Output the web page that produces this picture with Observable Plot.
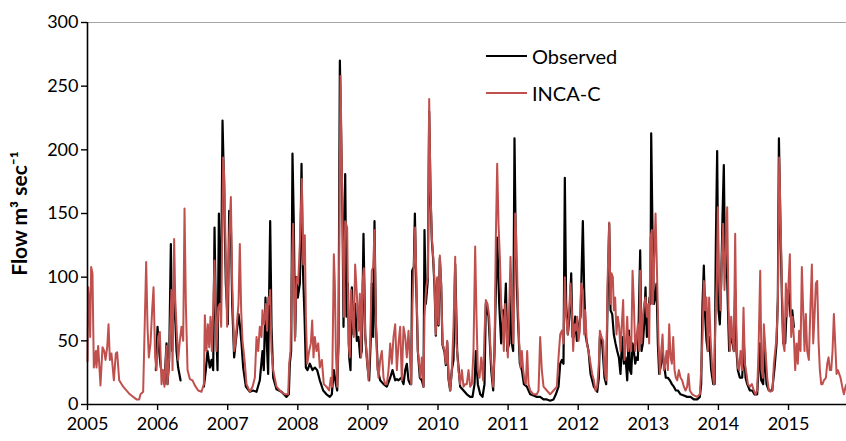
<!DOCTYPE html>
<html>
<head>
<meta charset="utf-8">
<script src="https://cdn.jsdelivr.net/npm/d3@7"></script>
<script src="https://cdn.jsdelivr.net/npm/@observablehq/plot@0.6"></script>
<style>
  html, body { margin: 0; padding: 0; background: #fff; }
  #wrap { position: relative; width: 846px; height: 441px; font-family: Lato, "Open Sans", sans-serif; }
  .leg { position: absolute; display: flex; align-items: center; font-size: 20px; color: #000; }
  .leg span.sw { display: inline-block; width: 41px; margin-right: 5px; }
</style>
</head>
<body>
<div id="wrap"></div>
<script>
// ---- data (decimal year, flow m3/s) ----
const yearTicks = [2005, 2006, 2007, 2008, 2009, 2010, 2011, 2012, 2013, 2014, 2015];
const flowTicks = [0, 50, 100, 150, 200, 250, 300];
const seriesNames = ["Observed", "INCA-C"];

const incaYear = [
2005.000,2005.010,2005.024,2005.038,2005.052,2005.071,2005.090,2005.119,2005.128,2005.152,2005.185,2005.214,2005.238,2005.257,2005.281,2005.300,2005.319,2005.342,2005.376,2005.404,2005.423,2005.452,2005.509,2005.604,2005.699,2005.737,2005.756,2005.794,2005.813,2005.837,2005.856,2005.875,2005.899,2005.922,2005.942,2005.965,2005.984,
2006.008,2006.032,2006.056,2006.079,2006.098,2006.127,2006.141,2006.165,2006.198,2006.213,2006.236,2006.251,2006.270,2006.293,2006.317,2006.341,2006.365,2006.384,2006.403,2006.427,2006.460,2006.498,2006.531,2006.579,2006.626,2006.660,2006.674,2006.698,2006.717,2006.736,2006.755,2006.774,2006.793,2006.812,2006.840,2006.864,2006.888,2006.907,2006.921,2006.935,2006.954,2006.973,2006.992,
2007.021,2007.045,2007.064,2007.092,2007.111,2007.130,2007.154,2007.173,2007.192,2007.211,2007.240,2007.268,2007.316,2007.354,2007.387,2007.411,2007.435,2007.458,2007.482,2007.496,2007.520,2007.544,2007.563,2007.577,2007.592,2007.606,2007.625,2007.649,2007.696,2007.744,2007.815,2007.863,2007.877,2007.896,2007.920,2007.934,2007.958,2007.981,
2008.005,2008.029,2008.058,2008.077,2008.100,2008.115,2008.134,2008.162,2008.186,2008.205,2008.224,2008.243,2008.267,2008.291,2008.314,2008.343,2008.371,2008.409,2008.447,2008.471,2008.490,2008.514,2008.528,2008.543,2008.562,2008.581,2008.609,2008.638,2008.657,2008.676,2008.704,2008.723,2008.742,2008.761,2008.780,2008.799,2008.818,2008.842,2008.866,2008.885,2008.904,2008.923,2008.942,2008.961,2008.985,
2009.009,2009.032,2009.056,2009.075,2009.094,2009.113,2009.132,2009.151,2009.175,2009.199,2009.223,2009.246,2009.270,2009.294,2009.318,2009.341,2009.365,2009.389,2009.413,2009.437,2009.460,2009.484,2009.508,2009.532,2009.555,2009.579,2009.603,2009.617,2009.636,2009.655,2009.674,2009.693,2009.712,2009.731,2009.750,2009.769,2009.793,2009.807,2009.831,2009.855,2009.874,2009.893,2009.912,2009.931,2009.950,2009.969,2009.988,
2010.007,2010.026,2010.045,2010.064,2010.093,2010.112,2010.131,2010.150,2010.174,2010.197,2010.221,2010.245,2010.264,2010.292,2010.316,2010.340,2010.364,2010.388,2010.411,2010.435,2010.459,2010.483,2010.506,2010.530,2010.549,2010.568,2010.592,2010.616,2010.644,2010.663,2010.682,2010.706,2010.730,2010.749,2010.768,2010.787,2010.806,2010.825,2010.844,2010.863,2010.882,2010.901,2010.920,2010.939,2010.958,2010.977,2010.996,
2011.015,2011.034,2011.053,2011.072,2011.091,2011.101,2011.120,2011.139,2011.158,2011.177,2011.196,2011.215,2011.234,2011.253,2011.272,2011.291,2011.315,2011.362,2011.410,2011.434,2011.457,2011.481,2011.505,2011.553,2011.600,2011.648,2011.695,2011.719,2011.743,2011.767,2011.790,2011.809,2011.828,2011.852,2011.871,2011.890,2011.909,2011.928,2011.947,2011.966,2011.985,
2012.004,2012.023,2012.042,2012.066,2012.085,2012.099,2012.123,2012.147,2012.176,2012.199,2012.223,2012.247,2012.271,2012.294,2012.309,2012.332,2012.356,2012.375,2012.399,2012.418,2012.442,2012.461,2012.475,2012.494,2012.508,2012.527,2012.546,2012.565,2012.584,2012.603,2012.622,2012.641,2012.660,2012.680,2012.699,2012.718,2012.737,2012.756,2012.775,2012.794,2012.813,2012.832,2012.851,2012.870,2012.884,2012.903,2012.922,2012.941,2012.960,2012.979,2012.998,
2013.012,2013.031,2013.050,2013.065,2013.088,2013.103,2013.122,2013.146,2013.165,2013.184,2013.203,2013.222,2013.241,2013.260,2013.279,2013.298,2013.317,2013.336,2013.355,2013.374,2013.393,2013.412,2013.436,2013.459,2013.483,2013.507,2013.531,2013.554,2013.573,2013.592,2013.626,2013.659,2013.697,2013.735,2013.754,2013.773,2013.792,2013.811,2013.830,2013.849,2013.868,2013.887,2013.911,2013.935,2013.959,2013.978,2013.992,
2014.011,2014.030,2014.049,2014.068,2014.087,2014.106,2014.125,2014.144,2014.163,2014.182,2014.201,2014.220,2014.239,2014.258,2014.277,2014.296,2014.315,2014.339,2014.358,2014.377,2014.401,2014.420,2014.449,2014.477,2014.505,2014.529,2014.553,2014.572,2014.596,2014.615,2014.634,2014.648,2014.672,2014.696,2014.719,2014.743,2014.772,2014.791,2014.810,2014.829,2014.848,2014.867,2014.886,2014.905,2014.924,2014.943,2014.962,2014.981,
2015.000,2015.019,2015.038,2015.057,2015.076,2015.095,2015.114,2015.133,2015.152,2015.171,2015.190,2015.209,2015.228,2015.247,2015.266,2015.290,2015.314,2015.333,2015.352,2015.371,2015.390,2015.409,2015.428,2015.447,2015.466,2015.485,2015.504,2015.533,2015.552,2015.571,2015.590,2015.609,2015.628,2015.647,2015.666,2015.685,2015.704,2015.723,2015.742,2015.766,2015.790,2015.813,2015.827
];
const incaFlow = [
34,92,82,53,108,103,29,42,29,46,15,45,42,35,45,63,35,40,19,40,41,19,14,8,4,4,8,10,55,112,61,37,48,74,92,37,27,
53,57,16,27,14,46,16,37,90,27,130,84,61,35,50,61,50,154,79,27,20,19,15,11,10,16,70,42,63,45,69,42,74,113,42,76,79,61,131,194,176,110,61,
131,163,95,42,48,63,79,126,74,50,35,16,10,14,21,53,42,61,53,74,63,79,58,84,79,90,42,27,14,11,8,8,32,42,116,142,50,100,
95,126,177,110,133,69,32,42,48,66,37,53,42,48,29,35,16,14,11,21,14,118,95,42,14,53,258,147,69,144,139,48,37,90,69,53,110,87,58,87,37,95,107,55,37,
19,48,105,108,137,69,32,21,35,42,21,16,16,27,48,32,53,63,27,48,61,19,61,53,37,58,32,16,79,108,139,95,42,32,21,37,14,69,92,100,240,168,131,116,95,55,100,
63,117,95,48,42,32,50,21,11,27,61,116,48,27,16,27,14,16,16,27,14,16,42,124,69,27,21,37,19,55,82,79,69,42,27,14,42,131,189,142,116,79,69,42,79,58,37,
74,116,79,48,95,150,126,79,48,29,42,27,19,16,42,16,11,8,8,11,53,27,14,11,8,11,14,37,55,58,48,100,69,55,74,95,74,42,63,58,69,
50,58,95,90,55,74,48,42,32,24,19,11,14,32,58,53,50,27,19,95,143,79,103,100,74,84,55,69,61,42,63,82,35,48,69,42,53,42,105,79,42,53,63,42,105,48,69,79,84,69,79,
48,131,137,79,121,150,108,48,24,42,55,27,32,42,27,63,37,32,53,27,21,19,27,21,19,14,11,14,24,11,8,7,6,8,27,53,97,74,84,42,84,53,29,16,69,100,155,
95,74,116,142,90,121,155,74,42,69,53,42,134,48,29,27,42,27,76,32,24,16,14,16,11,8,11,42,105,27,21,63,42,21,11,10,11,32,42,53,79,194,147,95,48,42,95,69,
95,118,53,69,53,27,48,32,58,42,108,74,42,71,42,35,79,110,48,69,95,97,50,27,16,16,19,21,32,37,27,27,42,71,48,24,27,24,21,14,8,14,16
];

const obsYear = [
2005.975,2005.999,
2006.022,2006.046,2006.079,2006.098,2006.127,2006.141,2006.165,2006.189,2006.208,2006.232,2006.251,2006.270,2006.293,2006.327,2006.500,2006.660,2006.688,2006.712,2006.745,2006.769,2006.793,2006.812,2006.831,2006.855,2006.874,2006.893,2006.912,2006.926,2006.945,2006.973,
2007.002,2007.021,2007.045,2007.064,2007.092,2007.126,2007.154,2007.173,2007.197,2007.221,2007.259,2007.316,2007.363,2007.411,2007.458,2007.496,2007.515,2007.539,2007.558,2007.577,2007.592,2007.606,2007.625,2007.649,2007.696,2007.767,2007.839,2007.872,2007.886,2007.905,2007.924,2007.943,2007.962,2007.981,
2008.000,2008.029,2008.053,2008.072,2008.096,2008.115,2008.138,2008.172,2008.210,2008.243,2008.276,2008.314,2008.362,2008.409,2008.457,2008.485,2008.514,2008.543,2008.562,2008.581,2008.600,2008.638,2008.652,2008.676,2008.695,2008.714,2008.733,2008.752,2008.771,2008.795,2008.818,2008.842,2008.866,2008.890,2008.913,2008.937,2008.961,2008.990,
2009.018,2009.042,2009.056,2009.075,2009.094,2009.113,2009.142,2009.175,2009.223,2009.270,2009.318,2009.351,2009.389,2009.413,2009.437,2009.475,2009.508,2009.532,2009.555,2009.579,2009.603,2009.617,2009.631,2009.655,2009.670,2009.689,2009.712,2009.741,2009.769,2009.793,2009.807,2009.826,2009.855,2009.874,2009.893,2009.912,2009.931,2009.950,2009.969,2009.988,
2010.007,2010.026,2010.045,2010.064,2010.093,2010.112,2010.131,2010.150,2010.174,2010.197,2010.221,2010.245,2010.273,2010.316,2010.364,2010.411,2010.459,2010.492,2010.521,2010.540,2010.568,2010.602,2010.635,2010.663,2010.682,2010.721,2010.759,2010.787,2010.806,2010.825,2010.844,2010.873,2010.901,2010.930,2010.949,2010.968,2010.987,
2011.015,2011.034,2011.053,2011.072,2011.091,2011.110,2011.139,2011.167,2011.196,2011.225,2011.267,2011.315,2011.362,2011.410,2011.457,2011.505,2011.553,2011.600,2011.648,2011.681,2011.719,2011.743,2011.767,2011.790,2011.809,2011.828,2011.852,2011.876,2011.900,2011.919,2011.938,2011.957,2011.981,
2012.004,2012.033,2012.066,2012.085,2012.109,2012.147,2012.176,2012.223,2012.271,2012.294,2012.309,2012.342,2012.375,2012.399,2012.418,2012.442,2012.461,2012.485,2012.508,2012.532,2012.556,2012.580,2012.603,2012.627,2012.651,2012.675,2012.699,2012.723,2012.737,2012.756,2012.775,2012.794,2012.813,2012.832,2012.851,2012.884,2012.903,2012.922,2012.941,2012.960,2012.979,2012.998,
2013.017,2013.031,2013.041,2013.060,2013.079,2013.098,2013.117,2013.136,2013.155,2013.184,2013.203,2013.222,2013.250,2013.279,2013.307,2013.336,2013.364,2013.393,2013.421,2013.459,2013.507,2013.554,2013.602,2013.649,2013.697,2013.735,2013.754,2013.773,2013.792,2013.811,2013.830,2013.849,2013.868,2013.897,2013.926,2013.945,2013.963,2013.982,
2014.001,2014.020,2014.039,2014.058,2014.077,2014.096,2014.115,2014.134,2014.153,2014.173,2014.201,2014.220,2014.239,2014.258,2014.277,2014.306,2014.339,2014.363,2014.387,2014.411,2014.449,2014.482,2014.515,2014.553,2014.572,2014.591,2014.610,2014.639,2014.658,2014.686,2014.719,2014.767,2014.801,2014.829,2014.848,2014.863,2014.882,2014.905,2014.924,2014.953,2014.972,
2015.000,2015.029,2015.053,2015.076
];
const obsFlow = [
27,61,
42,29,21,16,48,16,35,126,42,90,69,42,29,19,null,14,27,42,29,35,27,139,69,27,150,79,131,223,178,95,
63,152,142,79,37,55,71,63,48,29,14,10,11,10,19,42,27,84,48,24,90,144,61,21,12,10,6,8,32,42,197,142,53,100,
84,95,189,108,69,29,27,32,27,29,27,19,11,8,6,8,27,16,11,50,270,147,61,181,69,95,37,27,92,55,79,50,53,37,42,134,55,32,
19,53,95,53,144,63,27,19,16,14,21,27,19,20,19,21,16,27,32,19,16,16,105,108,150,95,42,21,19,14,137,79,98,230,166,129,114,93,54,98,
62,115,93,47,41,31,49,20,11,27,35,110,42,14,11,8,6,6,16,42,16,8,6,16,79,69,27,11,42,90,131,79,48,74,69,95,42,
48,95,48,42,209,121,69,32,27,16,14,8,7,6,6,4,4,3,4,8,14,32,35,32,178,79,55,69,103,53,53,69,50,
61,69,144,90,53,42,24,14,10,21,53,48,21,16,79,142,74,71,55,48,42,37,24,53,32,37,19,58,27,24,48,42,32,37,35,121,42,48,63,92,53,69,
84,79,213,134,79,84,95,48,24,32,42,32,21,21,19,16,14,11,11,8,7,6,6,4,4,6,16,79,109,69,50,42,53,27,16,16,124,199,
74,63,95,147,188,100,121,79,42,53,48,42,90,42,27,21,21,48,21,16,11,11,8,8,27,48,19,16,48,16,11,11,29,48,84,209,147,87,48,48,74,
90,69,74,61
];

const obs = obsYear.map((t, i) => ({t, q: obsFlow[i]}));
const inca = incaYear.map((t, i) => ({t, q: incaFlow[i]}));

const chart = Plot.plot({
  width: 846,
  height: 441,
  marginTop: 22,
  marginBottom: 37,
  marginLeft: 87,
  marginRight: 0,
  style: {fontFamily: "Lato, 'Open Sans', sans-serif", color: "#000", background: "#fff"},
  x: {domain: [2005, 2015.827]},
  y: {domain: [0, 300]},
  marks: [
    Plot.ruleY([300], {stroke: "#a6a6a6", strokeWidth: 1.2}),
    Plot.line(obs, {x: "t", y: "q", stroke: "#000", strokeWidth: 2.2, curve: "linear"}),
    Plot.line(inca, {x: "t", y: "q", stroke: "#C0504D", strokeWidth: 2, curve: "linear"}),
    Plot.ruleX([2005], {stroke: "#000", strokeWidth: 1.6}),
    Plot.ruleY([0], {stroke: "#000", strokeWidth: 1.6}),
    Plot.axisX({ticks: yearTicks, tickFormat: "d", tickSize: 6, tickPadding: 7, fontSize: 18, label: null, strokeWidth: 1.4}),
    Plot.axisY({ticks: flowTicks, tickSize: 6, tickPadding: 3, fontSize: 18, label: null, strokeWidth: 1.4}),
    Plot.text([0], {frameAnchor: "left", dx: -67, rotate: -90, textAnchor: "middle", text: () => "Flow m³ sec⁻¹", fontSize: 21, fontWeight: "bold"})
  ]
});

const wrap = document.getElementById("wrap");
wrap.appendChild(chart);

const legendColors = ["#000", "#C0504D"];
const legendWidths = [2.5, 2];
const legendTops = [44, 81];
seriesNames.forEach((name, i) => {
  const d = document.createElement("div");
  d.className = "leg";
  d.style.left = "486px";
  d.style.top = legendTops[i] + "px";
  d.innerHTML = `<span class="sw" style="border-top:${legendWidths[i]}px solid ${legendColors[i]}"></span><span>${name}</span>`;
  wrap.appendChild(d);
});
</script>
</body>
</html>
